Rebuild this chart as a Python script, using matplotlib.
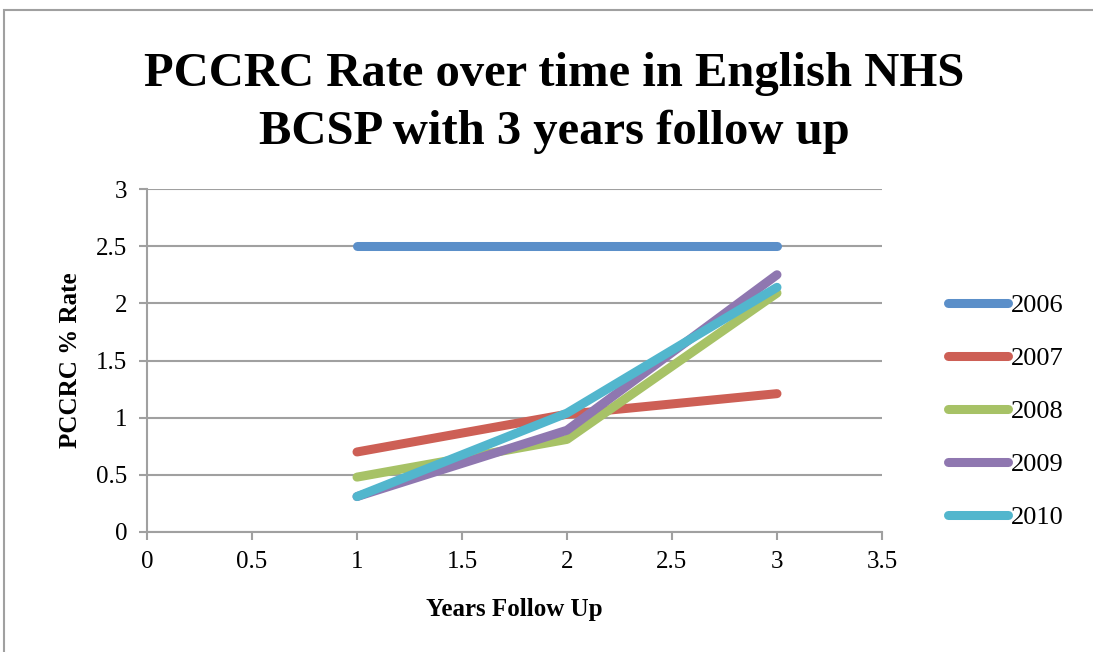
import matplotlib
matplotlib.use("Agg")
import matplotlib.pyplot as plt
from matplotlib.patches import Rectangle

years_follow_up = [1, 2, 3]
series_names = ["2006", "2007", "2008", "2009", "2010"]
rate_2006 = [2.5, 2.5, 2.5]
rate_2007 = [0.70, 1.03, 1.21]
rate_2008 = [0.48, 0.81, 2.09]
rate_2009 = [0.31, 0.89, 2.25]
rate_2010 = [0.31, 1.04, 2.14]
colors = ["#5B8FC9", "#CD5F55", "#A7C266", "#8F77B0", "#52B6CD"]

x_ticks = [0, 0.5, 1, 1.5, 2, 2.5, 3, 3.5]
y_ticks = [0, 0.5, 1, 1.5, 2, 2.5, 3]

plt.rcParams['font.family'] = ['Liberation Serif', 'DejaVu Serif']

fig = plt.figure(figsize=(10.93, 6.52), dpi=100)
fig.patches.append(Rectangle((4/1093, -0.1), 1.2, 1 - 10/652 + 0.1, transform=fig.transFigure,
                             fill=False, edgecolor="#A0A0A0", linewidth=1.5))

ax = fig.add_axes([147/1093, 1 - 532/652, 735/1093, 343/652])
all_series = [rate_2006, rate_2007, rate_2008, rate_2009, rate_2010]
for name, vals, c in zip(series_names, all_series, colors):
    ax.plot(years_follow_up, vals, color=c, linewidth=6.5, solid_capstyle='round',
            solid_joinstyle='round', label=name)

ax.set_xlim(0, 3.5)
ax.set_ylim(0, 3)
ax.set_xticks(x_ticks)
ax.set_xticklabels([f"{t:g}" for t in x_ticks])
ax.set_yticks(y_ticks)
ax.set_yticklabels([f"{t:g}" for t in y_ticks])
ax.yaxis.grid(True, color="#A0A0A0", linewidth=1.5)
ax.set_axisbelow(True)
for s in ["top", "right"]:
    ax.spines[s].set_visible(False)
for s in ["left", "bottom"]:
    ax.spines[s].set_color("#A0A0A0")
    ax.spines[s].set_linewidth(1.5)
ax.tick_params(axis='both', colors="#A0A0A0", width=1.5, length=6, labelsize=18,
               labelcolor="black", direction='out')
ax.tick_params(axis='x', pad=8)
ax.tick_params(axis='y', pad=8)

ax.set_xlabel("Years Follow Up", fontsize=18, fontweight='bold', labelpad=18)
ax.set_ylabel("PCCRC % Rate", fontsize=18, fontweight='bold', labelpad=10)

fig.text(554/1093, 1 - 103/652, "PCCRC Rate over time in English NHS\nBCSP with 3 years follow up",
         ha='center', va='center', fontsize=35, fontweight='bold', linespacing=1.4)

leg = ax.legend(loc='upper left', bbox_to_anchor=(1.075, 0.725), frameon=False, fontsize=19,
                handlelength=2.3, handletextpad=0.1, labelspacing=1.12, borderaxespad=0)

fig.savefig("out.png", dpi=100)
